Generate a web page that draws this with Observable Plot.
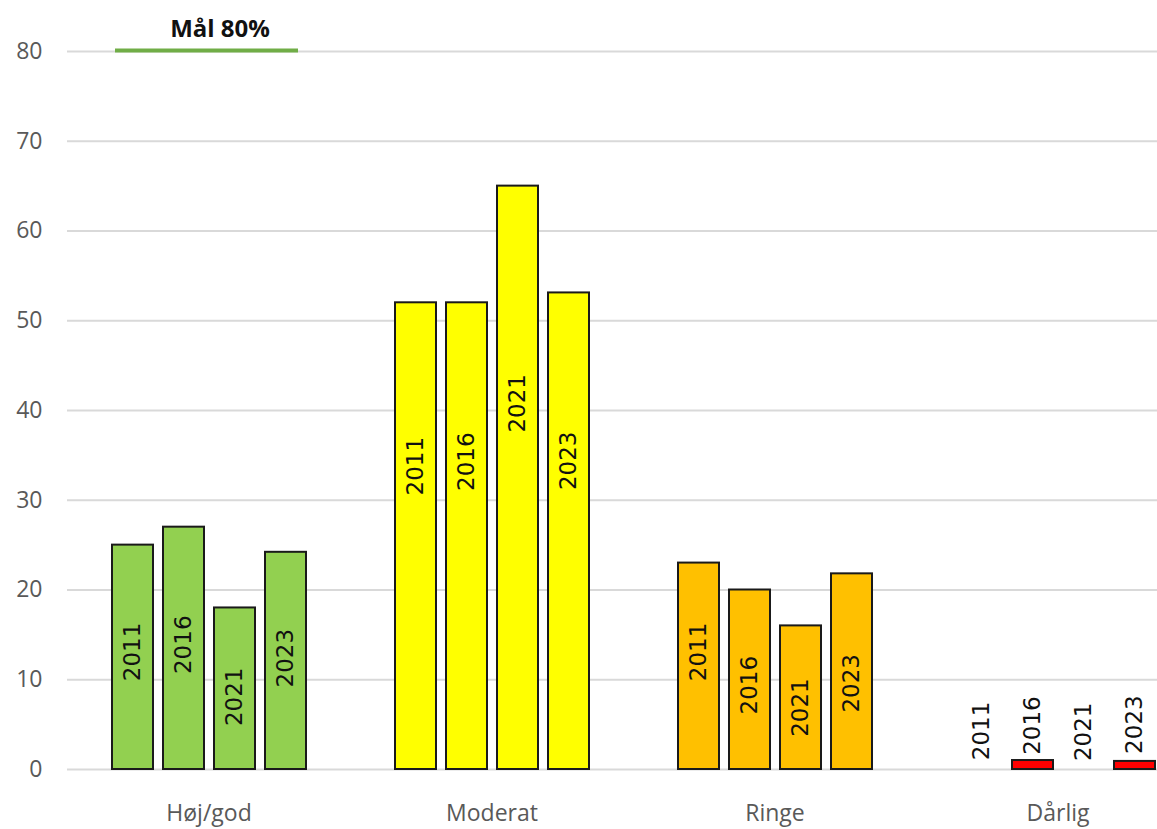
<!DOCTYPE html>
<html>
<head>
<meta charset="utf-8">
<script src="https://cdn.jsdelivr.net/npm/d3@7"></script>
<script src="https://cdn.jsdelivr.net/npm/@observablehq/plot@0.6"></script>
<style>
  html, body { margin: 0; padding: 0; background: #fff; overflow: hidden; }
  #wrap { width: 1157px; height: 829px; overflow: hidden; }
  #wrap svg { max-width: none !important; height: 829px !important; }
</style>
</head>
<body>
<div id="wrap"></div>
<script>
// ---- Data ----
const categories = ["Høj/god", "Moderat", "Ringe", "Dårlig"];
const years = ["2011", "2016", "2021", "2023"];
const hojGod  = [25, 27, 18, 24.2];
const moderat = [52, 52, 65, 53.1];
const ringe   = [23, 20, 16, 21.8];
const darlig  = [0, 1, 0, 0.9];
// value (on the y axis) where each year label sits
const hojGodLabel  = [13.1, 13.9, 8.1, 12.4];
const moderatLabel = [33.8, 34.3, 40.8, 34.4];
const ringeLabel   = [13.1, 9.4, 6.9, 9.6];
const darligLabel  = [4.3, 4.9, 4.2, 5.0];
const yTicks = [0, 10, 20, 30, 40, 50, 60, 70, 80];
const targetValue = 80;
const targetLabel = "Mål 80%";
const categoryColors = ["#92d050", "#ffff00", "#ffc000", "#ff0000"];

// ---- Build the table ----
const seriesValues = [hojGod, moderat, ringe, darlig];
const seriesLabels = [hojGodLabel, moderatLabel, ringeLabel, darligLabel];
const rows = [];
categories.forEach((c, ci) => {
  years.forEach((y, yi) => {
    rows.push({category: c, year: y, value: seriesValues[ci][yi], labelAt: seriesLabels[ci][yi]});
  });
});
const target = [{category: categories[0], value: targetValue, label: targetLabel}];

const chart = Plot.plot({
  width: 1200,
  height: 829,
  marginLeft: 66,
  marginRight: 0,
  marginTop: 51,
  marginBottom: 60,
  style: {fontFamily: "'Open Sans', sans-serif", background: "white", overflow: "visible"},
  fx: {domain: categories, padding: 0, label: null},
  x: {domain: years, paddingInner: 0.2, paddingOuter: 0.85, axis: null},
  y: {domain: [0, 80], label: null},
  color: {domain: categories, range: categoryColors},
  marks: [
    Plot.gridY(yTicks, {stroke: "#d9d9d9", strokeOpacity: 1, strokeWidth: 2}),
    Plot.axisY(yTicks, {tickSize: 0, tickPadding: 25, fontSize: 23, fill: "#595959", label: null}),
    Plot.axisFx({anchor: "bottom", tickSize: 0, tickPadding: 35, fontSize: 23, fill: "#595959", label: null}),
    Plot.barY(rows, {
      filter: d => d.value > 0,
      fx: "category", x: "year", y: "value",
      fill: "category", stroke: "#1a1a1a", strokeWidth: 2
    }),
    Plot.text(rows, {
      fx: "category", x: "year", y: "labelAt", text: "year",
      rotate: -90, fontSize: 23, fontFamily: "'DejaVu Sans', sans-serif", fill: "#111"
    }),
    Plot.ruleY(target, {
      fx: "category", y: "value",
      x1: () => years[0], x2: () => years[years.length - 1],
      insetLeft: 3, insetRight: 8,
      stroke: "#70ad47", strokeWidth: 4, dy: -1
    }),
    Plot.text(target, {
      fx: "category", y: "value", text: "label",
      fontSize: 24, fontWeight: "bold", fill: "#111", dx: 11, dy: -22
    })
  ]
});
document.getElementById("wrap").appendChild(chart);
</script>
</body>
</html>
